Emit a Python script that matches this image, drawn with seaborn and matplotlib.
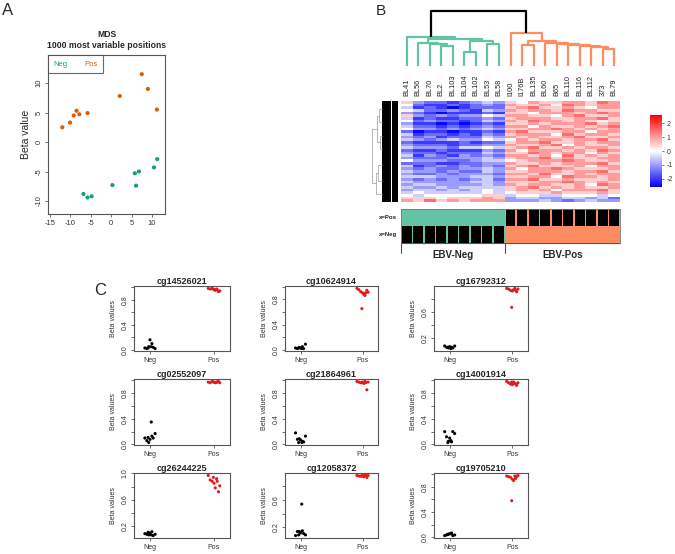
import numpy as np
import pandas as pd
import matplotlib
matplotlib.use("Agg")
import matplotlib.pyplot as plt
import seaborn as sns
from matplotlib.colors import LinearSegmentedColormap
from matplotlib.lines import Line2D

# ---- A: MDS of 1000 most variable positions ----
mds_neg_x = [-6.8, -5.8, -4.8, 0.3, 5.8, 6.1, 6.8, 10.5, 11.3]
mds_neg_y = [-8.8, -9.4, -9.2, -7.3, -5.3, -7.4, -5.0, -4.3, -2.9]
mds_pos_x = [-12.0, -10.1, -9.2, -8.5, -7.8, -5.8, 2.1, 7.5, 9.0, 11.2]
mds_pos_y = [2.5, 3.3, 4.5, 5.3, 4.7, 4.9, 7.8, 11.5, 9.0, 5.5]

# ---- B: heatmap of samples ----
samples = ["BL41", "BL56", "BL70", "BL2", "BL103", "BL104", "BL102", "BL53", "BL58",
           "I100", "I176B", "BL135", "BL60", "B65", "BL110", "BL116", "BL112", "373", "BL79"]
sample_group = ["Neg"] * 9 + ["Pos"] * 10

# one char per cell, 5 = white, lower = blue, higher = red
heat_rows = [
    "6322123436576677687", "5211212327667587677", "4121012226786676577",
    "5422321437677687766", "3210111216657776787", "6323233547766578667",
    "4121122326777667786", "5232212437687767656", "3110101216676777867",
    "4221212327757667678", "5332323436677876767", "2011011217866677577",
    "4122121326777586776", "3231222437676678667", "4323433545767767786",
    "2111121226778667677", "3222122337667857667", "4333244546786676776",
    "2112111327577767687", "3221222436687677576", "4132132327767586767",
    "3222333436778676677", "5333223445677787667", "2221122337667677786",
    "4123232326786667577", "3232233437577876667", "4332322436677767786",
    "3223233327768667677", "4443334436677587767", "3232323427786676667",
    "4333334436667787676", "3443333437677667587", "4334344446786767667",
    "3443434546767577786", "4544444545666766676", "5455555664554455545",
    "6665666763443344342", "7686767773334323433",
]

# column dendrogram merges: (left, right, height), node ids continue after the leaves
col_merges = [
    (3, 4, 20.0), (2, 19, 22.0), (1, 20, 23.5), (5, 6, 14.3), (7, 8, 21.7),
    (22, 23, 24.7), (21, 24, 26.7), (0, 25, 29.3),
    (17, 18, 17.3), (16, 27, 18.7), (15, 28, 20.0), (14, 29, 21.0), (13, 30, 22.0),
    (12, 31, 23.0), (10, 11, 20.7), (33, 32, 25.0), (9, 34, 32.7),
    (26, 35, 55.0),
]
col_merge_group = ["Neg"] * 8 + ["Pos"] * 9 + ["root"]

# row dendrogram (coarse)
row_leaf_pos = [3, 8, 13, 18, 24, 30, 35]
row_merges = [(0, 1, 21), (2, 3, 20), (7, 8, 23), (4, 5, 22), (10, 6, 24), (9, 11, 28)]

# ---- C: top probes ----
probes = ["cg14526021", "cg10624914", "cg16792312",
          "cg02552097", "cg21864961", "cg14001914",
          "cg26244225", "cg12058372", "cg19705210"]
neg_beta = [
    [0.03, 0.02, 0.05, 0.16, 0.10, 0.04, 0.02, 0.03, 0.05],
    [0.03, 0.02, 0.04, 0.03, 0.05, 0.02, 0.09, 0.03, 0.02],
    [0.08, 0.06, 0.05, 0.07, 0.06, 0.05, 0.08, 0.06, 0.04],
    [0.10, 0.06, 0.03, 0.08, 0.13, 0.10, 0.17, 0.11, 0.35],
    [0.18, 0.08, 0.09, 0.07, 0.05, 0.04, 0.13, 0.03, 0.03],
    [0.20, 0.12, 0.05, 0.10, 0.04, 0.20, 0.17, 0.03, 0.06],
    [0.08, 0.07, 0.06, 0.09, 0.11, 0.05, 0.07, 0.10, 0.06],
    [0.08, 0.14, 0.14, 0.12, 0.15, 0.11, 0.09, 0.09, 0.54],
    [0.03, 0.04, 0.05, 0.06, 0.07, 0.03, 0.04, 0.05, 0.06],
]
pos_beta = [
    [0.98, 0.97, 0.98, 0.96, 0.95, 0.97, 0.93, 0.94, 0.97, 0.96],
    [0.97, 0.95, 0.92, 0.90, 0.88, 0.86, 0.94, 0.91, 0.65, 0.90],
    [0.96, 0.95, 0.93, 0.92, 0.94, 0.96, 0.91, 0.95, 0.67, 0.93],
    [0.97, 0.96, 0.98, 0.97, 0.96, 0.97, 0.98, 0.96, 0.97, 0.97],
    [0.98, 0.97, 0.96, 0.97, 0.95, 0.98, 0.85, 0.97, 0.96, 0.96],
    [0.98, 0.96, 0.94, 0.93, 0.97, 0.95, 0.92, 0.96, 0.97, 0.94],
    [0.97, 0.90, 0.88, 0.85, 0.78, 0.92, 0.72, 0.81, 0.94, 0.88],
    [0.96, 0.95, 0.95, 0.96, 0.94, 0.96, 0.93, 0.96, 0.95, 0.96],
    [0.97, 0.96, 0.95, 0.92, 0.90, 0.97, 0.96, 0.98, 0.58, 0.93],
]
neg_jitter = [-0.08, -0.05, -0.02, 0.0, 0.03, 0.05, 0.08, -0.03, 0.02]
pos_jitter = [-0.09, -0.06, -0.03, 0.0, 0.02, 0.04, 0.07, 0.09, -0.01, 0.05]

GREEN_A, ORANGE_A = "#1B9E77", "#D95F02"
GREEN_B, ORANGE_B = "#66C2A5", "#FC8D62"
RED_C = "#E3191C"

sns.set_style("white")
plt.rcParams["font.family"] = ["Liberation Sans", "DejaVu Sans"]
plt.rcParams["axes.unicode_minus"] = False

W, H = 675, 554
fig = plt.figure(figsize=(W / 100, H / 100), dpi=100)


def box(x0, y0, x1, y1):
    return fig.add_axes([x0 / W, 1 - y1 / H, (x1 - x0) / W, (y1 - y0) / H])


def r_style(ax, size=5):
    for s in ax.spines.values():
        s.set_visible(True)
        s.set_color("#555555")
        s.set_linewidth(0.8)
    ax.tick_params(bottom=True, left=True, direction="out", length=2.5, width=0.6,
                   color="#555555", labelcolor="#333333", labelsize=size, pad=1.5)


# ---------------- A ----------------
fig.text(2 / W, 1 - 15 / H, "A", fontsize=12)
ax = box(48, 55, 165, 214)
mds = pd.DataFrame({"x": mds_neg_x + mds_pos_x, "y": mds_neg_y + mds_pos_y,
                    "group": ["Neg"] * len(mds_neg_x) + ["Pos"] * len(mds_pos_x)})
sns.scatterplot(data=mds, x="x", y="y", hue="group", palette={"Neg": GREEN_A, "Pos": ORANGE_A},
                s=9, linewidth=0, legend=False, ax=ax)
ax.set_xlim(-15.5, 13.2)
ax.set_ylim(-12.2, 14.75)
ax.set_xticks([-15, -10, -5, 0, 5, 10])
ax.set_yticks([-10, -5, 0, 5, 10])
ax.set_yticklabels(["-10", "-5", "0", "5", "10"], rotation=90, va="center")
r_style(ax, 5.5)
ax.set_xlabel("")
ax.set_ylabel("Beta value", fontsize=7.5, labelpad=3)
ax.set_title("MDS\n1000 most variable positions", fontsize=6.2, fontweight="bold", pad=5,
             linespacing=1.25)
leg = ax.legend(handles=[Line2D([], [], linestyle="none")] * 2, labels=["Neg", "Pos"],
                ncol=2, loc="upper left", bbox_to_anchor=(0, 1), borderaxespad=0,
                handlelength=0, handletextpad=0, columnspacing=2.2, fontsize=5.5,
                labelcolor=[GREEN_A, ORANGE_A], fancybox=False, edgecolor="#444444",
                borderpad=0.7)
leg.get_frame().set_linewidth(0.8)

# ---------------- B ----------------
fig.text(376 / W, 1 - 15 / H, "B", fontsize=11)
heat = pd.DataFrame([[(int(c) - 5) * 0.5 for c in r] for r in heat_rows], columns=samples)
n_col, n_row = heat.shape[1], heat.shape[0]

hm = box(401, 101, 620, 202)
cb = box(650, 115, 662, 187)
cmap = LinearSegmentedColormap.from_list("bwr_r", ["#0000FF", "#FFFFFF", "#FF0000"])
sns.heatmap(heat, ax=hm, cmap=cmap, vmin=-2.6, vmax=2.6, cbar_ax=cb,
            xticklabels=False, yticklabels=False)
cb.set_yticks([-2, -1, 0, 1, 2])
cb.tick_params(labelsize=5, length=1.5, width=0.5, pad=2, colors="#333333")
for s in cb.spines.values():
    s.set_visible(False)
for i, name in enumerate(samples):
    hm.text(i + 0.5, 1.05, name, rotation=90, ha="center", va="bottom", fontsize=5.3,
            transform=hm.get_xaxis_transform(), color="#222222")

# column dendrogram
dax = box(401, 8, 620, 66)
dax.set_xlim(0, n_col)
dax.set_ylim(0, 58)
dax.axis("off")
pos = {i: i + 0.5 for i in range(n_col)}
hgt = {i: 0.0 for i in range(n_col)}
dcol = {"Neg": GREEN_B, "Pos": ORANGE_B, "root": "black"}
for k, (a, b, h) in enumerate(col_merges):
    node = n_col + k
    dax.plot([pos[a], pos[a], pos[b], pos[b]], [hgt[a], h, h, hgt[b]],
             color=dcol[col_merge_group[k]], lw=1.6, solid_capstyle="butt")
    pos[node] = (pos[a] + pos[b]) / 2
    hgt[node] = h

# row dendrogram
rax = box(368, 101, 400, 202)
rax.set_ylim(n_row, 0)
rax.set_xlim(32, 0)
rax.axis("off")
rax.axvspan(2, 8, color="black", lw=0)
rax.axvspan(9.5, 18, color="black", lw=0)
rpos = {i: p for i, p in enumerate(row_leaf_pos)}
rh = {i: 18.0 for i in range(len(row_leaf_pos))}
for k, (a, b, h) in enumerate(row_merges):
    node = len(row_leaf_pos) + k
    rax.plot([rh[a], h, h, rh[b]], [rpos[a], rpos[a], rpos[b], rpos[b]], color="#999999", lw=0.5)
    rpos[node] = (rpos[a] + rpos[b]) / 2
    rh[node] = h

# annotation bars
aax = box(401, 209, 620, 243)
aax.set_xlim(0, n_col)
aax.set_ylim(0, 2)
gcol = {"Neg": GREEN_B, "Pos": ORANGE_B}
for row_i, lab in enumerate(["Neg", "Pos"]):
    for i, g in enumerate(sample_group):
        aax.bar(i + 0.5, 1, bottom=row_i, width=1.0, color=gcol[g], lw=0)
        if g == lab:
            aax.bar(i + 0.5, 1, bottom=row_i, width=0.86, color="black", lw=0)
    aax.text(-0.35, row_i + 0.5, "x=" + lab, ha="right", va="center", fontsize=4.3,
             fontweight="bold", color="#222222")
aax.set_xticks([])
aax.set_yticks([])
for s in aax.spines.values():
    s.set_visible(True)
    s.set_color("#777777")
    s.set_linewidth(0.6)

# group bracket
bax = box(401, 243, 620, 262)
bax.set_xlim(0, n_col)
bax.set_ylim(0, 1)
bax.axis("off")
n_neg = sample_group.count("Neg")
bax.plot([0, n_col], [1, 1], color="#555555", lw=0.8)
for xb in [0, n_neg, n_col]:
    bax.plot([xb, xb], [1, 0.45], color="#555555", lw=0.8)
bax.text(n_neg / 2, 0.38, "EBV-Neg", ha="center", va="center", fontsize=7, fontweight="bold")
bax.text((n_neg + n_col) / 2, 0.38, "EBV-Pos", ha="center", va="center", fontsize=7,
         fontweight="bold")

# ---------------- C ----------------
fig.text(94 / W, 1 - 295 / H, "C", fontsize=12)
c_cols = [(134, 230), (285, 378), (434, 528)]
c_rows = [(286, 351), (379, 445), (473, 538)]
for k, probe in enumerate(probes):
    x0, x1 = c_cols[k % 3]
    y0, y1 = c_rows[k // 3]
    ax = box(x0, y0, x1, y1)
    df = pd.DataFrame({
        "x": [1 + j for j in neg_jitter] + [2 + j for j in pos_jitter],
        "beta": neg_beta[k] + pos_beta[k],
        "group": ["Neg"] * len(neg_beta[k]) + ["Pos"] * len(pos_beta[k]),
    })
    sns.scatterplot(data=df, x="x", y="beta", hue="group", palette={"Neg": "black", "Pos": RED_C},
                    s=5, linewidth=0, legend=False, ax=ax)
    lo, hi = df["beta"].min(), df["beta"].max()
    pad = 0.04 * (hi - lo)
    ax.set_ylim(lo - pad, hi + pad)
    ax.set_xlim(0.75, 2.25)
    ticks = [t for t in [0.0, 0.2, 0.4, 0.6, 0.8, 1.0] if lo - pad <= t <= hi + pad]
    ax.set_yticks(ticks)
    ax.set_yticklabels([f"{t:.1f}" if i % 2 == 0 else "" for i, t in enumerate(ticks)],
                       rotation=90, va="center")
    ax.set_xticks([1, 2])
    ax.set_xticklabels(["Neg", "Pos"])
    r_style(ax, 5)
    ax.set_xlabel("")
    ax.set_ylabel("Beta values", fontsize=5, color="#333333", labelpad=3)
    ax.set_title(probe, fontsize=6.5, fontweight="bold", pad=1.5)

fig.savefig("out.png", dpi=100)
